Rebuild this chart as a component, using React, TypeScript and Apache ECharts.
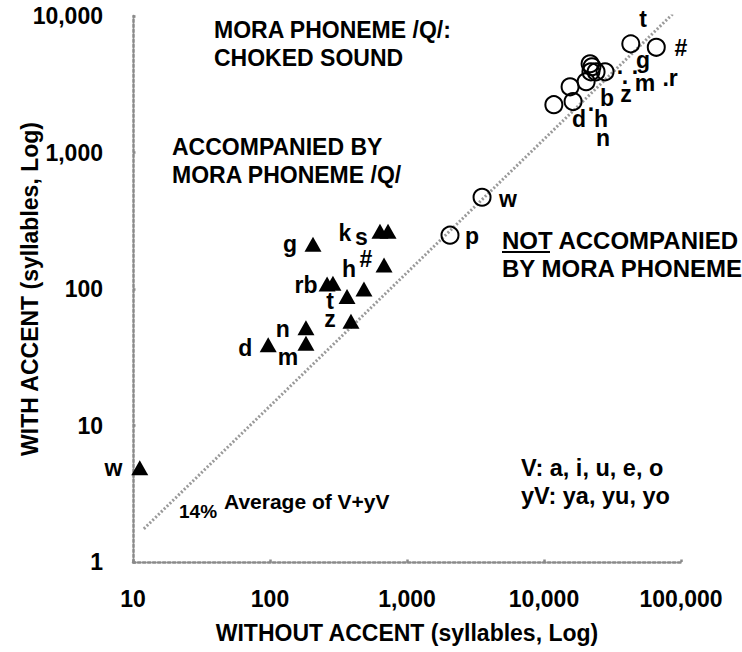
import React, { useEffect, useRef } from "react";
import * as echarts from "echarts";

// Tick values
const xTicks = [10, 100, 1000, 10000, 100000];
const yTicks = [1, 10, 100, 1000, 10000];

// Accompanied by mora phoneme /Q/ (triangles): [without accent, with accent]
const accompanied: [number, number][] = [
  [11.2, 4.9], [97, 39], [183, 40], [183, 52], [390, 58], [365, 88],
  [485, 100], [261, 109], [288, 110], [680, 150], [206, 213], [635, 265], [727, 265],
];

// Not accompanied by mora phoneme (circles)
const notAccompanied: [number, number][] = [
  [2060, 248], [3530, 470], [43000, 6250], [66000, 5900], [21700, 4470],
  [22400, 4250], [22000, 3900], [24000, 3900], [27900, 3900], [20300, 3300],
  [15500, 3030], [16300, 2360], [11800, 2240],
];

// Average line of V+yV (14%)
const averageLine: [number, number][] = [[12, 1.75], [90000, 10700]];

// Point labels: [x, y, text]
const pointLabels: [number, number, string][] = [
  [7.2, 4.85, "w"], [66, 37, "d"], [135, 32, "m"], [124, 51, "n"], [274, 60, "z"],
  [274, 82, "t"], [183, 107, "rb"], [377, 140, "h"], [502, 166, "#"], [140, 213, "g"],
  [352, 256, "k"], [465, 240, "s"],
  [2980, 244, "p"], [5460, 454, "w"],
  [52800, 9500, "t"], [100000, 5840, "#"], [52800, 4770, "g"], [35900, 4320, "."],
  [46100, 4320, "."], [54600, 3240, "m"], [83200, 3530, ".r"], [39700, 2700, "z"],
  [39000, 3650, "."], [28800, 2520, "b"], [22000, 2320, "."], [18000, 1770, "d"],
  [26100, 1770, "h"], [27000, 1285, "n"],
];

const FONT = "Liberation Sans";

export default function App() {
  const ref = useRef<HTMLDivElement>(null);
  useEffect(() => {
    if (!ref.current) return;
    const chart = echarts.init(ref.current, null, { renderer: "svg" });
    const axisLineStyle = { color: "#8a8a8a", width: 2.5, type: "dotted" as const };
    const fmt = (v: number) => v.toLocaleString("en-US");
    const annot = (x: number, y: number, text: string, size = 23) => ({
      type: "text",
      left: x,
      top: y,
      style: { text, font: `bold ${size}px ${FONT}`, fill: "#000" },
    });
    chart.setOption({
      animation: false,
      backgroundColor: "#fff",
      grid: { left: 133, right: 61, top: 16, bottom: 90, containLabel: false, outerBoundsMode: "none" },
      xAxis: {
        type: "log",
        logBase: 10,
        min: xTicks[0],
        max: xTicks[xTicks.length - 1],
        name: "WITHOUT ACCENT (syllables, Log)",
        nameLocation: "middle",
        nameGap: 59,
        nameMoveOverlap: false,
        nameTextStyle: { fontFamily: FONT, fontWeight: "bold", fontSize: 23, color: "#000" },
        axisLine: { lineStyle: axisLineStyle },
        axisTick: { inside: true, length: 5, lineStyle: axisLineStyle },
        splitLine: { show: false },
        axisLabel: { formatter: fmt, margin: 25, fontFamily: FONT, fontWeight: "bold", fontSize: 23, color: "#000" },
      },
      yAxis: {
        type: "log",
        logBase: 10,
        min: yTicks[0],
        max: yTicks[yTicks.length - 1],
        name: "WITH ACCENT (syllables, Log)",
        nameLocation: "middle",
        nameGap: 92,
        nameMoveOverlap: false,
        nameTextStyle: { fontFamily: FONT, fontWeight: "bold", fontSize: 23, color: "#000" },
        axisLine: { lineStyle: axisLineStyle },
        axisTick: { inside: true, length: 5, lineStyle: axisLineStyle },
        splitLine: { show: false },
        axisLabel: { formatter: fmt, margin: 30, fontFamily: FONT, fontWeight: "bold", fontSize: 23, color: "#000" },
      },
      series: [
        {
          type: "line",
          data: averageLine,
          symbol: "none",
          lineStyle: { color: "#9a9a9a", width: 3, type: [2, 2], opacity: 1 },
          z: 1,
        },
        {
          type: "scatter",
          data: accompanied,
          symbol: "triangle",
          symbolSize: [17, 15],
          itemStyle: { color: "#000", opacity: 1 },
          z: 3,
        },
        {
          type: "scatter",
          data: notAccompanied,
          symbol: "circle",
          symbolSize: 17,
          itemStyle: { color: "rgba(255,255,255,0)", borderColor: "#000", borderWidth: 2, opacity: 1 },
          z: 3,
        },
        {
          type: "scatter",
          clip: false,
          data: pointLabels.map(([x, y, t]) => ({ value: [x, y], name: t })),
          symbolSize: 0,
          itemStyle: { opacity: 1 },
          label: {
            show: true,
            position: "inside",
            formatter: (p: any) => p.name,
            fontFamily: FONT,
            fontWeight: "bold",
            fontSize: 23,
            color: "#000",
          },
          z: 4,
        },
      ],
      graphic: [
        annot(214, 18, "MORA PHONEME /Q/:"),
        annot(214, 46, "CHOKED SOUND"),
        annot(172, 135, "ACCOMPANIED BY"),
        annot(172, 163, "MORA PHONEME /Q/"),
        annot(502, 228, "NOT ACCOMPANIED", 24),
        annot(502, 256, "BY MORA PHONEME", 24),
        { type: "line", shape: { x1: 502, y1: 252, x2: 550, y2: 252 }, style: { stroke: "#000", lineWidth: 2 } },
        annot(521, 456, "V: a, i, u, e, o", 23.5),
        annot(521, 484, "yV: ya, yu, yo", 23.5),
        annot(224, 491, "Average of V+yV", 21),
        annot(179, 502, "14%", 19),
      ],
    });
    return () => chart.dispose();
  }, []);
  return <div ref={ref} style={{ position: "fixed", left: 0, top: 0, width: 742, height: 652 }} />;
}
